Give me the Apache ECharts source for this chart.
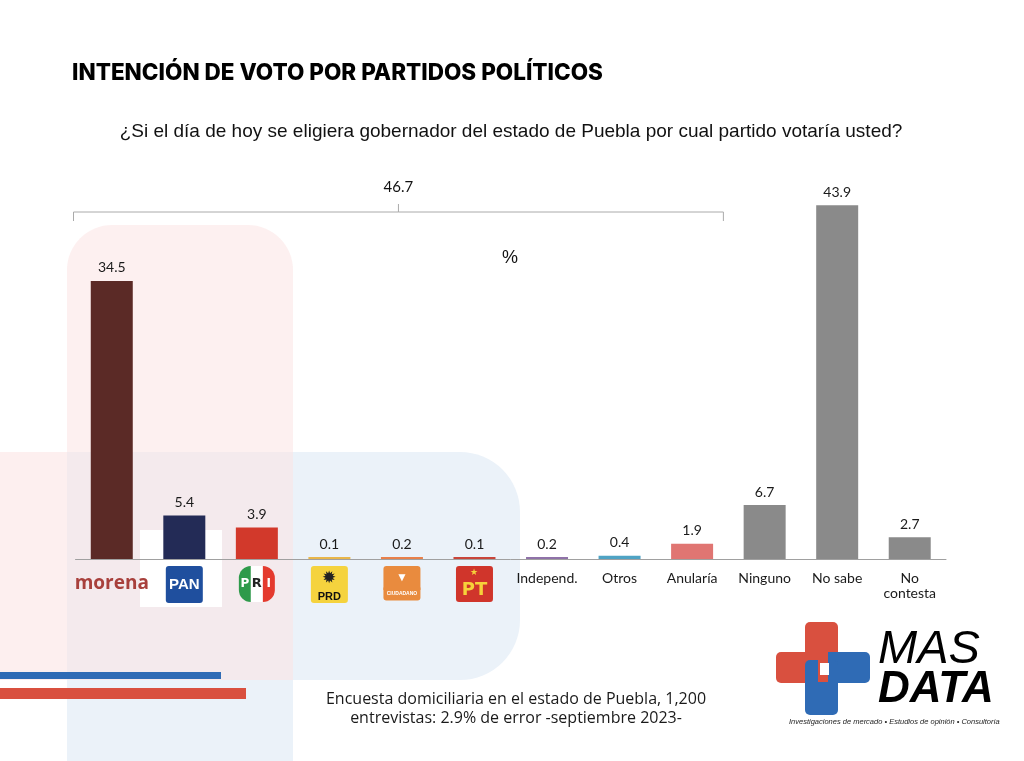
<!DOCTYPE html>
<html>
<head>
<meta charset="utf-8">
<script src="https://cdn.jsdelivr.net/npm/echarts@6/dist/echarts.min.js"></script>
<style>
html,body{margin:0;padding:0;background:#fff;}
#main{width:1024px;height:761px;}
</style>
</head>
<body>
<div id="main"></div>
<script>
// ---- data ----
var categories = ['morena','PAN','PRI','PRD','MC','PT','Independ.','Otros','Anularía','Ninguno','No sabe','No contesta'];
var values = [34.5, 5.4, 3.9, 0.1, 0.2, 0.1, 0.2, 0.4, 1.9, 6.7, 43.9, 2.7];
var barColors = ['#5B2A26','#232B56','#D2392B','#E8B64A','#E8804A','#C8453A','#8F72A8','#4FA3C4','#E07572','#8A8A8A','#8A8A8A','#8A8A8A'];
var bracketLabel = '46.7';
var bracketFirst = 'morena';
var bracketLast = 'Anularía';
var titleText = 'INTENCIÓN DE VOTO POR PARTIDOS POLÍTICOS';
var subtitleText = '¿Si el día de hoy se eligiera gobernador del estado de Puebla por cual partido votaría usted?';
var unitText = '%';
var footerText = 'Encuesta domiciliaria en el estado de Puebla, 1,200\nentrevistas: 2.9% de error -septiembre 2023-';

var chart = echarts.init(document.getElementById('main'), null, {renderer: 'canvas'});

var seriesData = values.map(function (v, i) {
  return { value: v, itemStyle: { color: barColors[i] } };
});

function labelFormatter(v) {
  switch (v) {
    case 'morena': return '{morena|morena}';
    case 'PAN': return '{pan|PAN}';
    case 'PRI': return '{prig|P}{prir|R}{prii|I}';
    case 'PRD': return '{prdSun|✹}\n{prd|PRD}';
    case 'MC': return '{mcTop|▼}\n{mc|CIUDADANO}';
    case 'PT': return '{ptStar|★}\n{pt|PT}';
    case 'No contesta': return '{txt|No}\n{txt2|contesta}';
    default: return '{txt|' + v + '}';
  }
}

var bg = [
  // background decorative shapes
  { type: 'rect', z: 0, shape: { x: 0, y: 452, width: 67, height: 228 }, style: { fill: '#FDEFEF' } },
  { type: 'rect', z: 0, shape: { x: 67, y: 452, width: 155, height: 309 }, style: { fill: '#EBF2F9' } },
  { type: 'rect', z: 0, shape: { x: 222, y: 452, width: 298, height: 228, r: [0, 60, 60, 0] }, style: { fill: '#EBF2F9' } },
  { type: 'rect', z: 0, shape: { x: 222, y: 680, width: 71, height: 81 }, style: { fill: '#EBF2F9' } },
  { type: 'rect', z: 1, shape: { x: 67, y: 225, width: 226, height: 455, r: [45, 45, 0, 0] }, style: { fill: 'rgba(252,228,228,0.55)' } },
  { type: 'rect', z: 1, shape: { x: 140, y: 530, width: 82, height: 77 }, style: { fill: '#FFFFFF' } },
  { type: 'rect', z: 1, shape: { x: 0, y: 672, width: 221, height: 7 }, style: { fill: '#2F6BB5' } },
  { type: 'rect', z: 1, shape: { x: 0, y: 688, width: 246, height: 11 }, style: { fill: '#D9503F' } },
  // texts
  { type: 'text', z: 5, left: 72, top: 62, style: { text: titleText, font: '800 22.5px Inter, "Open Sans", sans-serif', fill: '#000' } },
  { type: 'text', z: 5, x: 511, y: 132, style: { text: subtitleText, font: '19px "Liberation Sans", Arial, sans-serif', fill: '#111', textAlign: 'center', textVerticalAlign: 'middle' } },
  { type: 'text', z: 5, x: 510, y: 258, style: { text: unitText, font: '18px "Liberation Sans", Arial, sans-serif', fill: '#111', textAlign: 'center', textVerticalAlign: 'middle' } },
  { type: 'text', z: 5, x: 516, y: 709, style: { text: footerText, font: '16px "Open Sans", sans-serif', lineHeight: 19, fill: '#1a1a1a', textAlign: 'center', textVerticalAlign: 'middle' } },
  // MAS DATA logo
  { type: 'rect', z: 5, shape: { x: 805, y: 622, width: 33, height: 62, r: 5 }, style: { fill: '#D9503F' } },
  { type: 'rect', z: 5, shape: { x: 776, y: 652, width: 50, height: 31, r: 5 }, style: { fill: '#D9503F' } },
  { type: 'rect', z: 6, shape: { x: 818, y: 652, width: 52, height: 31, r: 5 }, style: { fill: '#2F6BB5' } },
  { type: 'rect', z: 6, shape: { x: 805, y: 660, width: 33, height: 55, r: 5 }, style: { fill: '#2F6BB5' } },
  { type: 'rect', z: 7, shape: { x: 818, y: 652, width: 10, height: 30 }, style: { fill: '#D9503F' } },
  { type: 'rect', z: 8, shape: { x: 820, y: 663, width: 9, height: 12 }, style: { fill: '#FFFFFF' } },
  { type: 'text', z: 5, x: 878, y: 650, style: { text: 'MAS', font: 'italic 47px "Liberation Sans Narrow", "Liberation Sans", sans-serif', fill: '#000', textVerticalAlign: 'middle' } },
  { type: 'text', z: 5, x: 878, y: 690, style: { text: 'DATA', font: 'italic bold 44px "Liberation Sans Narrow", "Liberation Sans", sans-serif', fill: '#000', textVerticalAlign: 'middle' } },
  { type: 'text', z: 5, x: 789, y: 722, style: { text: 'Investigaciones de mercado • Estudios de opinión • Consultoría', font: 'italic 7.5px "Liberation Sans Narrow", "Liberation Sans", sans-serif', fill: '#222', textVerticalAlign: 'middle' } }
];

var option = {
  animation: false,
  backgroundColor: '#fff',
  grid: { left: 75.5, right: 78, top: 156, bottom: 202, containLabel: false },
  xAxis: {
    type: 'category',
    data: categories,
    axisLine: { show: true, lineStyle: { color: '#A0A0A0', width: 1 } },
    axisTick: { show: false },
    axisLabel: {
      interval: 0,
      margin: 7,
      formatter: labelFormatter,
      rich: {
        txt: { fontFamily: 'Lato, "Open Sans", sans-serif', fontSize: 14, color: '#1a1a1a', lineHeight: 18, padding: [6, 0, 0, 0] },
        txt2: { fontFamily: 'Lato, "Open Sans", sans-serif', fontSize: 14, color: '#1a1a1a', lineHeight: 18 },
        morena: { fontFamily: '"Open Sans", sans-serif', fontWeight: 'bold', fontSize: 19, color: '#A8403C', lineHeight: 30, padding: [5, 0, 0, 0] },
        pan: { backgroundColor: '#1F4F9E', color: '#fff', fontFamily: '"Liberation Sans Narrow", sans-serif', fontWeight: 'bold', fontSize: 15, width: 37, height: 37, lineHeight: 37, align: 'center', borderRadius: 3 },
        prig: { backgroundColor: '#2E9A4A', color: '#fff', fontFamily: '"DejaVu Sans", sans-serif', fontWeight: 'bold', fontSize: 12, width: 12, height: 36, lineHeight: 36, align: 'center', borderRadius: [14, 0, 0, 14] },
        prir: { backgroundColor: '#ffffff', color: '#222', fontFamily: '"DejaVu Sans", sans-serif', fontWeight: 'bold', fontSize: 13, width: 12, height: 36, lineHeight: 30, align: 'center' },
        prii: { backgroundColor: '#E43A2E', color: '#fff', fontFamily: '"DejaVu Sans", sans-serif', fontWeight: 'bold', fontSize: 12, width: 12, height: 36, lineHeight: 36, align: 'center', borderRadius: [0, 14, 14, 0] },
        prdSun: { backgroundColor: '#F5D33E', color: '#222', fontSize: 17, width: 37, height: 24, lineHeight: 24, align: 'center', borderRadius: [3, 3, 0, 0] },
        prd: { backgroundColor: '#F5D33E', color: '#111', fontFamily: '"Liberation Sans Narrow", sans-serif', fontWeight: 'bold', fontSize: 11, width: 37, height: 13, lineHeight: 13, align: 'center', borderRadius: [0, 0, 3, 3] },
        mcTop: { backgroundColor: '#E98B3E', color: '#fff', fontSize: 12, width: 37, height: 24, lineHeight: 24, align: 'center', borderRadius: [3, 3, 0, 0] },
        mc: { backgroundColor: '#E98B3E', color: '#fff', fontFamily: '"Liberation Sans Narrow", sans-serif', fontWeight: 'bold', fontSize: 5, width: 37, height: 13, lineHeight: 8, align: 'center', borderRadius: [0, 0, 3, 3] },
        ptStar: { backgroundColor: '#D0352B', color: '#F6D23A', fontSize: 9, width: 37, height: 13, lineHeight: 13, align: 'center', borderRadius: [3, 3, 0, 0] },
        pt: { backgroundColor: '#D0352B', color: '#F6D23A', fontFamily: '"DejaVu Sans", sans-serif', fontWeight: 'bold', fontSize: 18, width: 37, height: 24, lineHeight: 22, align: 'center', borderRadius: [0, 0, 3, 3] }
      }
    },
    z: 3
  },
  yAxis: { type: 'value', min: 0, max: 50, show: false, splitLine: { show: false } },
  series: [{
    type: 'bar',
    data: seriesData,
    barWidth: 42,
    barMinHeight: 2,
    z: 3,
    label: {
      show: true,
      position: 'top',
      distance: 6,
      fontFamily: 'Lato, "Open Sans", sans-serif',
      fontSize: 14,
      color: '#1a1a1a',
      formatter: function (p) { return p.value.toFixed(1); }
    }
  }],
  graphic: bg
};
chart.setOption(option);

// bracket over the first group, computed from the axis scale
var cFirst = chart.convertToPixel({ xAxisIndex: 0 }, bracketFirst);
var cLast = chart.convertToPixel({ xAxisIndex: 0 }, bracketLast);
var band = chart.convertToPixel({ xAxisIndex: 0 }, categories[1]) - cFirst;
var bx0 = cFirst - band / 2 - 2;
var bx1 = cLast + band / 2 - 5;
var bmid = (bx0 + bx1) / 2;
var by = 212;
chart.setOption({
  graphic: bg.concat([
    { type: 'polyline', z: 5, shape: { points: [[bx0, by + 9], [bx0, by], [bx1, by], [bx1, by + 9]] }, style: { stroke: '#AAAAAA', lineWidth: 1, fill: null } },
    { type: 'line', z: 5, shape: { x1: bmid, y1: by, x2: bmid, y2: by - 8 }, style: { stroke: '#AAAAAA', lineWidth: 1 } },
    { type: 'text', z: 5, x: bmid, y: 187, style: { text: bracketLabel, font: '15px Lato, "Open Sans", sans-serif', fill: '#111', textAlign: 'center', textVerticalAlign: 'middle' } }
  ])
});
</script>
</body>
</html>
